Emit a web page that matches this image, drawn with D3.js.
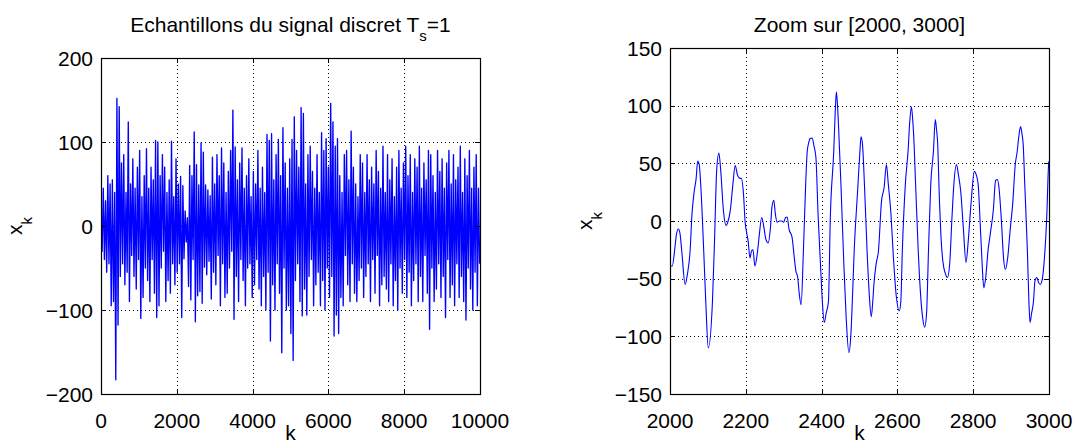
<!DOCTYPE html>
<html><head><meta charset="utf-8">
<script src="https://cdn.jsdelivr.net/npm/d3@7"></script>
<style>
body{margin:0;background:#fff}
svg{display:block}
text{font-family:"Liberation Sans",Arial,Helvetica,sans-serif;fill:#000}
</style>
</head><body>
<svg id="chart" width="1075" height="445"></svg>
<script>
// ---------- data ----------
// Left panel: full discrete signal, local extrema sampled every 30 samples (k = 0..9990)
const signalStep = 30;
const signalValues = [
  20,-30,45,-40,30,-55,60,-45,50,-95,
  55,-90,40,-183,152,-118,142,-60,75,-45,
  85,-70,40,-55,124,-90,50,-35,80,-60,
  45,-75,70,-40,90,-110,35,-85,60,-50,
  92,-65,45,-90,70,-40,55,-80,102,-109,
  100,-95,60,-50,85,-30,70,-90,40,-65,
  55,-80,101,-45,35,-70,80,-55,50,-45,
  59,-109,48,-39,18,-19,10,-72,72,-88,
  60,-40,112,-114,73,-83,49,-78,99,-92,
  88,-49,49,-58,43,-42,36,-87,82,-55,
  50,-70,85,-35,60,-95,93,-45,75,-85,
  40,-80,65,-50,90,-30,138,-111,94,-60,
  55,-90,75,-40,93,-65,45,-95,60,-50,
  80,-45,35,-85,65,-70,50,-40,90,-75,
  45,-95,70,-60,40,-100,109,-55,102,-137,
  110,-70,55,-100,85,-45,103,-80,60,-151,
  117,-50,75,-100,45,-95,80,-128,103,-160,
  130,-65,90,-45,70,-90,141,-107,134,-75,
  50,-106,85,-60,95,-40,65,-95,45,-70,
  85,-55,40,-95,111,-65,90,-100,104,-50,
  70,-85,146,-60,124,-131,95,-106,104,-128,
  60,-85,40,-95,85,-35,90,-70,55,-90,
  113,-45,70,-80,50,-90,35,-65,85,-50,
  75,-85,40,-60,85,-45,55,-90,70,-40,
  50,-80,90,-35,65,-95,45,-70,95,-60,
  40,-75,85,-90,55,-45,80,-95,35,-65,
  70,-100,90,-50,45,-80,75,-40,95,-85,
  60,-55,85,-95,40,-65,80,-45,70,-90,
  95,-60,45,-90,75,-35,55,-80,90,-123,
  85,-50,60,-90,40,-75,90,-45,65,-85,
  80,-60,45,-109,75,-40,90,-85,50,-70,
  85,-95,55,-45,70,-85,95,-60,40,-90,
  80,-112,60,-50,90,-75,45,-100,70,-55,
  85,-95,45,-45
];

// Right panel: zoom on [2000, 3000]
const zoomK = [
  2000,2006,2013,2017,2022,2026,2031,2040,2046,2053,2058,2064,2069,2073,2077,2082,2089,2095,2101,2112,
  2118,2123,2129,2134,2141,2148,2152,2159,2166,2172,2178,2184,2188,2194,2198,2203,2206,2211,2215,2219,
  2224,2230,2235,2242,2248,2253,2259,2265,2269,2274,2278,2283,2289,2295,2300,2305,2309,2314,2322,2328,
  2332,2337,2341,2346,2352,2358,2362,2366,2370,2375,2380,2385,2391,2397,2402,2407,2412,2418,2423,2432,
  2436,2439,2442,2445,2451,2459,2465,2472,2477,2481,2486,2495,2501,2504,2508,2513,2520,2526,2531,2535,
  2538,2544,2550,2558,2565,2571,2576,2583,2589,2597,2605,2609,2613,2621,2628,2633,2637,2641,2643,2648,
  2655,2661,2667,2672,2677,2682,2688,2695,2700,2703,2706,2711,2715,2720,2727,2732,2738,2744,2749,2756,
  2761,2767,2774,2781,2787,2794,2803,2808,2813,2819,2824,2828,2833,2839,2846,2853,2859,2864,2868,2875,
  2880,2885,2891,2898,2904,2911,2916,2921,2925,2929,2932,2936,2943,2947,2950,2954,2959,2963,2968,2972,
  2977,2983,2988,2994,2999,3000
];
const zoomValues = [
  -39,-39,-23,-11.5,-7,-10,-26,-55,-46,-26,6,26,37,52,49,26,-26,-75,-110,-70,
  -11.5,43,59,43,9,-4,-1.5,9,32,48,40,37,37,23,0,-11.5,-17,-32,-26,-25,
  -39,-29,-14,3,-6,-16,-19,-6,12,18,6,-1,0,0,-1,3,3.5,-7,-14,-32,
  -43,-49,-63,-72.5,-26,32,60,68,71.5,72,65,55,3,-37,-70,-88,-80,-70,3,60,
  95,112,100,80,32,-40,-85,-114,-100,-70,-26,26,60,73,66,32,-26,-65,-83,-70,
  -55,-37,-26,17,29,49,32,6,-29,-65,-78,-70,-26,32,60,88,99,85,74,32,
  -26,-63,-85,-92,-80,-26,32,60,88,80,69,17,-14,-35,-46,-49,-37,3,32,49,
  40,26,-6,-36,-17,14,43,40,32,-6,-40,-58,-49,-26,-9,9,35,36,29,-3,
  -32,-42,-32,-6,14,49,60,75,82,75,66,32,-26,-70,-88,-80,-70,-52,-49,-53,
  -55,-49,-32,3,49,52
];

// ticks
const leftXTicks = [0,2000,4000,6000,8000,10000];
const leftYTicks = [-200,-100,0,100,200];
const rightXTicks = [2000,2200,2400,2600,2800,3000];
const rightYTicks = [-150,-100,-50,0,50,100,150];

// ---------- drawing ----------
const svg = d3.select("#chart");
const FS = 21;
const fmt = v => (v < 0 ? "\u2212" + Math.abs(v) : String(v));

function panel(opt) {
  const {x0, x1, y0, y1, xDomain, yDomain, xTicks, yTicks, ks, vs, curve, id, lw} = opt;
  const x = d3.scaleLinear().domain(xDomain).range([x0, x1]);
  const y = d3.scaleLinear().domain(yDomain).range([y1, y0]);
  const g = svg.append("g");

  // grid
  const grid = g.append("g").attr("stroke", "#000").attr("stroke-width", 1)
    .attr("stroke-dasharray", "1,3").attr("shape-rendering", "crispEdges");
  xTicks.filter(t => t !== xDomain[0] && t !== xDomain[1]).forEach(t => {
    grid.append("line").attr("x1", Math.round(x(t)) + 0.5).attr("x2", Math.round(x(t)) + 0.5)
      .attr("y1", y1).attr("y2", y0);
  });
  yTicks.filter(t => t !== yDomain[0] && t !== yDomain[1]).forEach(t => {
    grid.append("line").attr("y1", Math.round(y(t)) + 0.5).attr("y2", Math.round(y(t)) + 0.5)
      .attr("x1", x0).attr("x2", x1);
  });

  // data line
  svg.append("clipPath").attr("id", id).append("rect")
    .attr("x", x0).attr("y", y0).attr("width", x1 - x0).attr("height", y1 - y0);
  const pts = ks.map((k, i) => [k, vs[i]]);
  g.append("path").datum(pts)
    .attr("clip-path", `url(#${id})`)
    .attr("fill", "none").attr("stroke", "#0000ff").attr("stroke-width", lw)
    .attr("stroke-linejoin", "round")
    .attr("d", d3.line().x(d => x(d[0])).y(d => y(d[1])).curve(curve));

  // ticks (inside, all four sides)
  const tl = 5;
  const tk = g.append("g").attr("stroke", "#000").attr("stroke-width", 1).attr("shape-rendering", "crispEdges");
  xTicks.forEach(t => {
    const xx = Math.round(x(t)) + 0.5;
    tk.append("line").attr("x1", xx).attr("x2", xx).attr("y1", y1).attr("y2", y1 - tl);
    tk.append("line").attr("x1", xx).attr("x2", xx).attr("y1", y0).attr("y2", y0 + tl);
  });
  yTicks.forEach(t => {
    const yy = Math.round(y(t)) + 0.5;
    tk.append("line").attr("y1", yy).attr("y2", yy).attr("x1", x0).attr("x2", x0 + tl);
    tk.append("line").attr("y1", yy).attr("y2", yy).attr("x1", x1).attr("x2", x1 - tl);
  });

  // box
  g.append("rect").attr("x", x0 + 0.5).attr("y", y0 + 0.5).attr("width", x1 - x0).attr("height", y1 - y0)
    .attr("fill", "none").attr("stroke", "#000").attr("stroke-width", 1.2);

  // tick labels
  xTicks.forEach(t => {
    g.append("text").attr("x", x(t)).attr("y", 428).attr("text-anchor", "middle")
      .attr("font-size", FS).text(fmt(t));
  });
  yTicks.forEach(t => {
    g.append("text").attr("x", x0 - 8).attr("y", y(t)).attr("dy", "0.36em").attr("text-anchor", "end")
      .attr("font-size", FS).text(fmt(t));
  });

  // x label
  g.append("text").attr("x", (x0 + x1) / 2).attr("y", 440).attr("text-anchor", "middle")
    .attr("font-size", FS).text("k");
  return {g, x, y};
}

function yLabel(xb, yc) {
  const t = svg.append("text").attr("transform", `translate(${xb},${yc}) rotate(-90)`)
    .attr("text-anchor", "middle").attr("font-size", FS);
  t.append("tspan").text("x");
  t.append("tspan").attr("font-size", 15).attr("dy", 10).text("k");
}

const leftK = signalValues.map((v, i) => i * signalStep);
const L = panel({id: "clipL", x0: 101, x1: 480, y0: 58, y1: 394, xDomain: [0, 10000], yDomain: [-200, 200],
  xTicks: leftXTicks, yTicks: leftYTicks, ks: leftK, vs: signalValues, curve: d3.curveLinear, lw: 1.35});
const R = panel({id: "clipR", x0: 670, x1: 1049, y0: 48, y1: 394, xDomain: [2000, 3000], yDomain: [-150, 150],
  xTicks: rightXTicks, yTicks: rightYTicks, ks: zoomK, vs: zoomValues, curve: d3.curveMonotoneX, lw: 1.1});

// titles
const t1 = svg.append("text").attr("x", 290.5).attr("y", 32).attr("text-anchor", "middle").attr("font-size", FS);
t1.append("tspan").text("Echantillons du signal discret T");
t1.append("tspan").attr("font-size", 15).attr("dy", 9).text("s");
t1.append("tspan").attr("dy", -9).text("=1");
svg.append("text").attr("x", 859.5).attr("y", 32).attr("text-anchor", "middle").attr("font-size", FS)
  .text("Zoom sur [2000, 3000]");

yLabel(22, 226);
yLabel(592, 221);
</script>
</body></html>
